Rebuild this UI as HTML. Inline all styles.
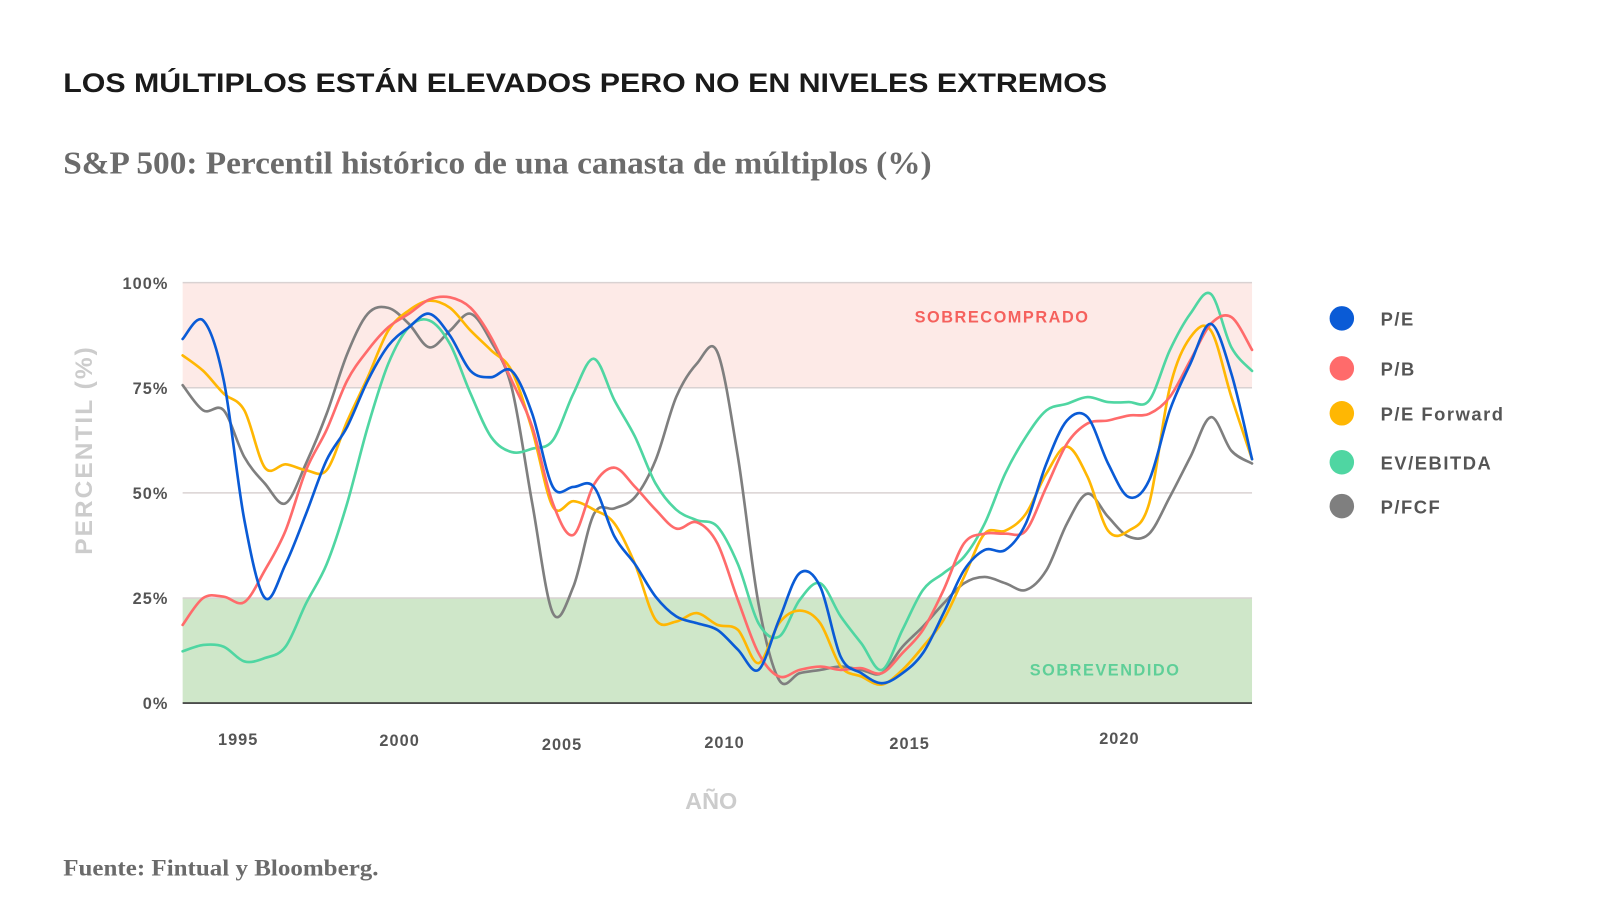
<!DOCTYPE html>
<html><head><meta charset="utf-8"><style>
html,body{margin:0;padding:0;background:#fff;}
svg{display:block;}
</style></head><body>
<svg id="chart" width="1600" height="923" xmlns="http://www.w3.org/2000/svg" font-family="Liberation Sans, sans-serif">
<g transform="scale(1.0204)">
<text x="62" y="90" font-size="26" font-weight="bold" fill="#1a1a1a" textLength="1023" lengthAdjust="spacingAndGlyphs">LOS MÚLTIPLOS ESTÁN ELEVADOS PERO NO EN NIVELES EXTREMOS</text>
<text x="62" y="170" font-size="31" font-family="Liberation Serif, serif" font-weight="bold" fill="#6b6b6b" textLength="851" lengthAdjust="spacingAndGlyphs">S&amp;P 500: Percentil histórico de una canasta de múltiplos (%)</text>
<text x="62" y="858" font-size="23" font-family="Liberation Serif, serif" font-weight="bold" fill="#6b6b6b" textLength="309" lengthAdjust="spacingAndGlyphs">Fuente: Fintual y Bloomberg.</text>
<g id="plot"></g>
<text transform="translate(90,441) rotate(-90)" text-anchor="middle" font-size="24" font-weight="bold" fill="#cccccc" letter-spacing="2">PERCENTIL (%)</text>
<text x="697" y="793" text-anchor="middle" font-size="23" font-weight="bold" fill="#cccccc">AÑO</text>
<g id="legend"></g>
</g>
</svg>
<script>
const tickValues = [0, 25, 50, 75, 100];
const tickLabels = ["0%", "25%", "50%", "75%", "100%"];
const yearLabels = ["1995", "2000", "2005", "2010", "2015", "2020"];
const yearIndex = [2.7, 10.55, 18.45, 26.35, 35.35, 45.55];
const seriesNames = ["P/E", "P/B", "P/E Forward", "EV/EBITDA", "P/FCF"];
const pe = [86.6,91,76.7,43.5,25,33,45,57.8,65.7,76.7,85,89.4,92.6,87.4,79,77.5,79,68.8,51.4,51.4,51.4,39.6,33,25.3,20.6,19,17.4,12.7,7.9,19.8,30.9,27.7,11,7.1,4.7,7.1,11.9,21.4,31.6,36.4,36.4,42.7,57,67.2,68,57,49,53,69.6,80.7,90.2,78.3,58];
const pb = [18.6,25,25.3,24,31.6,41,55.4,65,76.7,83.9,89.4,92.6,96,96.5,94,87,76.7,65.7,47.5,40,52,56,51.4,46,41.5,43,38,24.5,11.9,6.3,7.9,8.7,7.9,8.3,7.1,11.9,17.4,26.9,38,40.3,40.3,41,51.4,61.7,66.5,67.2,68.4,68.8,72.8,81.5,90.2,91.8,84];
const pef = [82.7,79,73.6,69.6,56,56.8,55.4,55.4,67,77.5,88.6,93.4,95.7,94,88.6,83.9,79,64.9,46.7,48,46,42.7,33,19.8,19.4,21.4,18.6,17.4,9.5,19,22,19,8.7,6.3,4.4,7.9,13.4,19.8,30,40.3,41,45,54.6,61,53.8,41,41,47.5,75,87,88.6,72.8,58];
const ev = [12.3,13.8,13.4,9.9,10.7,13.4,23.7,33,47.5,65.7,80.7,89.4,91,85.4,73.6,63.3,59.7,60.5,62.5,73.6,81.9,72,63.3,52.2,46,43.5,42,33,19,15.8,24.5,28.5,20.6,14.2,7.9,17.4,26.9,30.9,34.8,42.7,54.6,63.3,69.6,71.2,72.8,71.6,71.6,72,83.9,92.6,97.3,84.6,79];
const pfcf = [75.6,69.6,69.6,58.5,52.2,47.5,57,68.8,83,92.6,94,90.2,84.6,88.6,92.6,86,75,47.5,21.4,27.7,45,46.3,49,57.8,72.8,80.7,83.5,58.5,23.7,5.5,7.1,7.9,8.7,7.9,7.1,13.4,18.2,23.7,28.5,30,28.5,26.9,31.6,42.7,49.8,44.3,39.6,40.3,49,58.5,68,60,57];
const colors = ["#0a5bd6","#ff6b6b","#ffb703","#4fd6a2","#7f7f7f"];
const allSeries = [pe, pb, pef, ev, pfcf];

const X0 = 179, X1 = 1227, Y0 = 689, Y1 = 277;
const NI = pe.length - 1;
const xs = i => X0 + (X1 - X0) * i / NI;
const ys = v => Y0 - (Y0 - Y1) * v / 100;
const NS = "http://www.w3.org/2000/svg";
const plot = document.getElementById('plot');
function mk(tag, attrs, parent){ const e=document.createElementNS(NS,tag); for(const k in attrs) e.setAttribute(k,attrs[k]); parent.appendChild(e); return e; }

const band1 = mk('rect',{x:X0,y:ys(100),width:X1-X0,height:ys(75)-ys(100),fill:'#fdeae7'},plot);


const band2 = mk('rect',{x:X0,y:ys(25),width:X1-X0,height:ys(0)-ys(25),fill:'#cfe7c9'},plot);



tickValues.forEach((v,k)=>{
  const g = mk('line',{x1:X0,x2:X1,y1:ys(v),y2:ys(v),stroke:v===0?'#333':'#d9d2d2','stroke-width':1.5},plot);
  
  
  const t = mk('text',{x:165,y:ys(v)+6,'text-anchor':'end','font-size':16,'font-weight':'bold',fill:'#555','letter-spacing':'1'},plot);
  t.textContent = tickLabels[k];
  
  
});
const yearY = [730,731,735,733,734,729];
yearLabels.forEach((lab,k)=>{
  const t = mk('text',{x:xs(yearIndex[k]),y:yearY[k],'text-anchor':'middle','font-size':16,'font-weight':'bold',fill:'#555','letter-spacing':'1'},plot);
  t.textContent = lab;
  
  
});
const l1 = mk('text',{x:982,y:316,'text-anchor':'middle','font-size':16,'font-weight':'bold',fill:'#f5615d','letter-spacing':'1.5'},plot);
l1.textContent='SOBRECOMPRADO';


const l2 = mk('text',{x:1083,y:662,'text-anchor':'middle','font-size':16,'font-weight':'bold',fill:'#5fcf98','letter-spacing':'1.5'},plot);
l2.textContent='SOBREVENDIDO';



function smoothPath(vals){
  const P = vals.map((v,i)=>[xs(i),ys(v)]);
  let d = 'M'+P[0][0].toFixed(1)+' '+P[0][1].toFixed(1);
  for(let i=0;i<P.length-1;i++){
    const p0=P[Math.max(0,i-1)], p1=P[i], p2=P[i+1], p3=P[Math.min(P.length-1,i+2)];
    const c1=[p1[0]+(p2[0]-p0[0])/6, p1[1]+(p2[1]-p0[1])/6];
    const c2=[p2[0]-(p3[0]-p1[0])/6, p2[1]-(p3[1]-p1[1])/6];
    d += ' C'+c1[0].toFixed(1)+' '+c1[1].toFixed(1)+' '+c2[0].toFixed(1)+' '+c2[1].toFixed(1)+' '+p2[0].toFixed(1)+' '+p2[1].toFixed(1);
  }
  return d;
}
const order = [4,3,2,1,0];
order.forEach(s=>{
  const p = mk('path',{d:smoothPath(allSeries[s]),fill:'none',stroke:colors[s],'stroke-width':2.6,'stroke-linejoin':'round','stroke-linecap':'round'},plot);
  
  
});

const legend = document.getElementById('legend');
const legY = [312,361,405,453,496];
seriesNames.forEach((n,k)=>{
  const g = mk('g',{},legend);
  
  
  mk('circle',{cx:1315,cy:legY[k],r:12,fill:colors[k]},g);
  const t = mk('text',{x:1353,y:legY[k]+7,'font-size':18,'font-weight':'bold',fill:'#555','letter-spacing':'1.5'},g);
  t.textContent = n;
});
</script>
</body></html>
